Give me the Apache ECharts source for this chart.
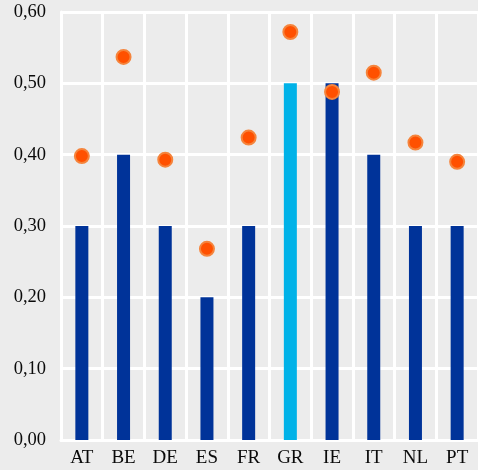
<!DOCTYPE html>
<html><head><meta charset="utf-8">
<script src="https://cdn.jsdelivr.net/npm/echarts@6/dist/echarts.min.js"></script>
<style>html,body{margin:0;padding:0;background:#ececec}#c{width:478px;height:470px}</style>
</head><body><div id="c"></div>
<script>
var categories = ['AT','BE','DE','ES','FR','GR','IE','IT','NL','PT'];
var barValues = [0.30,0.40,0.30,0.20,0.30,0.50,0.50,0.40,0.30,0.30];
var dotValues = [0.398,0.537,0.393,0.268,0.424,0.572,0.488,0.515,0.417,0.390];
var yTicks = [0,0.1,0.2,0.3,0.4,0.5,0.6];

var chart = echarts.init(document.getElementById('c'));
var font = 'Liberation Serif';
chart.setOption({
  backgroundColor: '#ececec',
  animation: false,
  grid: {left: 61, right: 0, top: 12, bottom: 30},
  xAxis: {
    type: 'category', data: categories,
    axisLine: {show: true, lineStyle: {color: '#ffffff', width: 3}},
    axisTick: {show: false},
    splitLine: {show: true, lineStyle: {color: '#ffffff', width: 3}},
    axisLabel: {color: '#0a0a0a', fontFamily: font, fontSize: 19, margin: 9}
  },
  yAxis: {
    type: 'value', min: 0, max: 0.6, interval: 0.1,
    axisLine: {show: true, lineStyle: {color: '#ffffff', width: 3}},
    axisTick: {show: false},
    splitLine: {show: true, lineStyle: {color: '#ffffff', width: 3}},
    axisLabel: {color: '#0a0a0a', fontFamily: font, fontSize: 18.5, margin: 15,
      formatter: function(v){ return v.toFixed(2).replace('.', ','); }}
  },
  series: [
    {type: 'bar', data: barValues.map(function(v,i){
        return {value: v, itemStyle: {color: categories[i]==='GR' ? '#00b2e8' : '#003399'}};
      }), barWidth: 13},
    {type: 'scatter', data: dotValues, symbol: 'circle', symbolSize: 14,
      itemStyle: {color: '#ff5000', borderColor: '#f5843c', borderWidth: 2, opacity: 1}}
  ]
});
</script></body></html>
